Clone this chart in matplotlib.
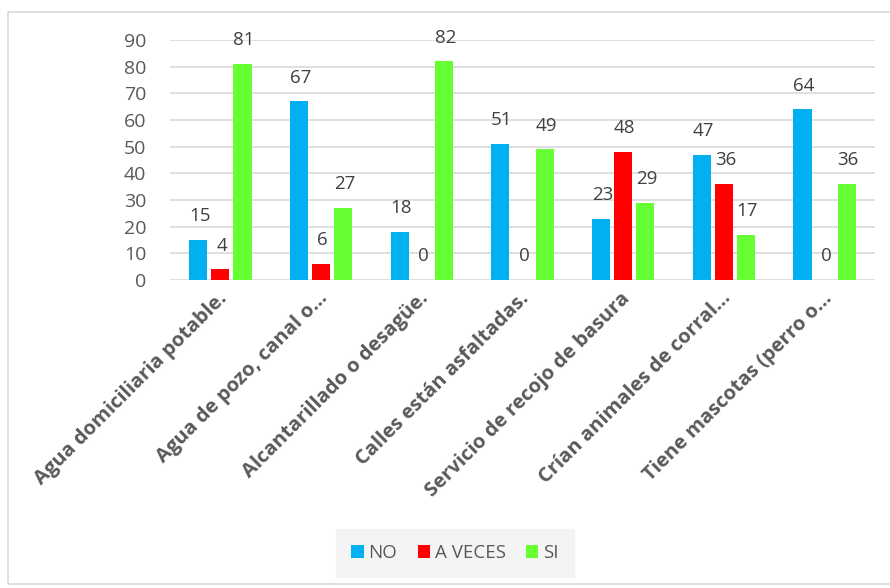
import numpy as np
import matplotlib.pyplot as plt
from matplotlib.patches import Rectangle
from matplotlib.transforms import ScaledTranslation

# Data
categories = [
    "Agua domiciliaria potable.",
    "Agua de pozo, canal o...",
    "Alcantarillado o desagüe.",
    "Calles están asfaltadas.",
    "Servicio de recojo de basura",
    "Crían animales de corral...",
    "Tiene mascotas (perro o...",
]
no_vals = [15, 67, 18, 51, 23, 47, 64]
aveces_vals = [4, 6, 0, 0, 48, 36, 0]
si_vals = [81, 27, 82, 49, 29, 17, 36]
series_names = ["NO", "A VECES", "SI"]
colors = ["#00b0f0", "#ff0000", "#66ff33"]
yticks = [0, 10, 20, 30, 40, 50, 60, 70, 80, 90]

text_color = "#595959"
plt.rcParams["font.family"] = ["Open Sans", "DejaVu Sans"]

fig = plt.figure(figsize=(8.9, 5.88), dpi=100)
# chart frame
fig.patches.append(
    Rectangle((8 / 890, 4 / 588), 1.0, 1 - 16 / 588, transform=fig.transFigure,
              fill=False, edgecolor="#d9d9d9", linewidth=1.2)
)

ax = fig.add_axes([170 / 890, 1 - 280 / 588, 705 / 890, 240 / 588])

x = np.arange(len(categories))
width = 0.18
step = 0.22
all_series = [no_vals, aveces_vals, si_vals]
for i, (vals, name, col) in enumerate(zip(all_series, series_names, colors)):
    pos = x + (i - 1) * step
    ax.bar(pos, vals, width, color=col, label=name, zorder=3)
    for px, v in zip(pos, vals):
        ax.annotate(str(v), (px, v), xytext=(1, 17), textcoords="offset points",
                    ha="center", va="center", fontsize=13.5, color="#404040")

ax.set_xlim(-0.5, len(categories) - 0.5)
ax.set_ylim(0, 90)
ax.set_yticks(yticks)
ax.yaxis.grid(True, color="#d9d9d9", linewidth=1.2, zorder=0)
ax.set_axisbelow(True)
for s in ax.spines.values():
    s.set_visible(False)
ax.tick_params(axis="both", length=0)
ax.tick_params(axis="y", labelsize=14, labelcolor=text_color, pad=17)
ax.set_xticks(x)
ax.set_xticklabels(categories, rotation=45, ha="right", rotation_mode="anchor",
                   fontsize=14.5, fontweight="bold", color=text_color)
ax.tick_params(axis="x", pad=6)
shift = ScaledTranslation(-3 / 100, 0, fig.dpi_scale_trans)
for lbl in ax.get_xticklabels():
    lbl.set_transform(lbl.get_transform() + shift)

leg = fig.legend(loc="center", bbox_to_anchor=(455 / 890, 1 - 553 / 588), ncol=3,
                 frameon=True, fontsize=13.5, handlelength=0.65, handleheight=0.65,
                 handletextpad=0.25, columnspacing=1.1, borderpad=0.8,
                 fancybox=False)
leg.get_frame().set_facecolor("#f2f2f2")
leg.get_frame().set_edgecolor("#f2f2f2")
for t in leg.get_texts():
    t.set_color(text_color)

fig.savefig("out.png", dpi=100)
